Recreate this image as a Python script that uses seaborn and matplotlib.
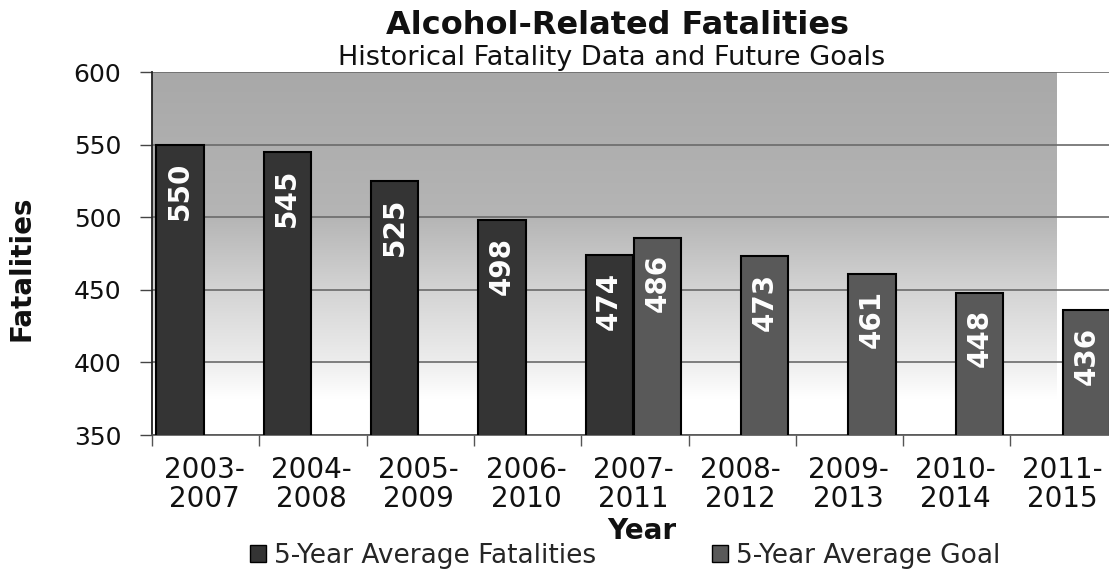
import numpy as np
import pandas as pd
import matplotlib
matplotlib.use("Agg")
import matplotlib.pyplot as plt
import seaborn as sns
from matplotlib.patches import Patch

# ---- data ----
periods = ["2003-\n2007", "2004-\n2008", "2005-\n2009", "2006-\n2010", "2007-\n2011",
           "2008-\n2012", "2009-\n2013", "2010-\n2014", "2011-\n2015"]
fatalities = [550, 545, 525, 498, 474, None, None, None, None]
goals = [None, None, None, None, 486, 473, 461, 448, 436]
series_names = ["5-Year Average Fatalities", "5-Year Average Goal"]
series_colors = ["#343434", "#595959"]
yticks = [350, 400, 450, 500, 550, 600]

rows = []
for p, f, g in zip(periods, fatalities, goals):
    if f is not None:
        rows.append({"period": p, "series": series_names[0], "value": f})
    if g is not None:
        rows.append({"period": p, "series": series_names[1], "value": g})
df = pd.DataFrame(rows)

sns.set_style("white")
plt.rcParams["font.family"] = ["DejaVu Sans"]

W, H = 1109, 573
fig = plt.figure(figsize=(W / 100, H / 100), dpi=100)
cell = 107.3
ax_left, ax_top, ax_bottom = 152, 72, 435
ax_w = cell * len(periods)
ax = fig.add_axes([ax_left / W, (H - ax_bottom) / H, ax_w / W, (ax_bottom - ax_top) / H])

# gradient background (plot area fill)
t = np.linspace(0, 1, 400)
shade = np.interp(t, [0.0, 0.1, 0.2, 0.4, 0.6, 1.0], [1.0, 1.0, 0.93, 0.83, 0.71, 0.66])
img = np.dstack([shade, shade, shade]).reshape(400, 1, 3)
grad_end = (1057 - ax_left) / ax_w
ax.imshow(img, extent=[0, grad_end, 0, 1], transform=ax.transAxes, origin="lower",
          aspect="auto", zorder=-10, interpolation="bilinear")

sns.barplot(data=df, x="period", y="value", hue="series", order=periods,
            hue_order=series_names, palette=series_colors, width=0.9, gap=0.02,
            edgecolor="black", linewidth=1.5, ax=ax, legend=False, zorder=3)

# value labels
for cont in ax.containers:
    for bar in cont:
        h = bar.get_height()
        if np.isnan(h):
            continue
        ax.annotate(f"{h:.0f}", (bar.get_x() + bar.get_width() / 2, h),
                    xytext=(0, -12), textcoords="offset points", rotation=90,
                    ha="center", va="top", color="white", fontsize=20,
                    fontweight="bold", zorder=5)

off = 0.486
ax.set_xlim(-off, len(periods) - off)
ax.set_ylim(350, 600)
ax.set_yticks(yticks)
ax.set_yticklabels([str(v) for v in yticks])
ax.set_xticks(range(len(periods)))
ax.set_xticklabels(periods, linespacing=1.05)
ax.set_xticks(np.arange(len(periods) + 1) - off, minor=True)

ax.yaxis.grid(True, color="#6a6a6a", linewidth=1.2, zorder=1)
ax.set_axisbelow(True)
ax.tick_params(axis="y", labelsize=18, length=9, width=1, pad=13, color="#444444",
               left=True, labelcolor="#111111")
ax.tick_params(axis="x", which="major", length=0, labelsize=20, pad=15, labelcolor="#111111")
ax.tick_params(axis="x", which="minor", length=8, width=1, color="#555555", bottom=True)
for s in ["top", "right"]:
    ax.spines[s].set_visible(False)
ax.spines["left"].set_color("#222222")
ax.spines["left"].set_linewidth(1.3)
ax.spines["bottom"].set_color("#555555")
ax.spines["bottom"].set_linewidth(1.2)

ax.set_ylabel("Fatalities", fontsize=20, fontweight="bold", va="center", color="#111111")
ax.yaxis.set_label_coords(22 / W, (H - 268) / H, transform=fig.transFigure)
ax.set_xlabel("Year", fontsize=20, fontweight="bold", va="center", color="#111111")
ax.xaxis.set_label_coords(642 / W, (H - 531) / H, transform=fig.transFigure)

fig.text(617 / W, (H - 25) / H, "Alcohol-Related Fatalities", ha="center", va="center",
         fontsize=23, fontweight="bold", color="#111111")
fig.text(612 / W, (H - 58) / H, "Historical Fatality Data and Future Goals", ha="center",
         va="center", fontsize=19.5, color="#111111")

handles = [Patch(facecolor=c, edgecolor="black", linewidth=1) for c in series_colors]
fig.legend(handles, series_names, loc="center", bbox_to_anchor=(625 / W, (H - 556) / H),
           ncol=2, frameon=False, fontsize=19, handlelength=0.6, handleheight=0.6,
           handletextpad=0.3, columnspacing=4.4, borderpad=0, borderaxespad=0)

fig.savefig("out.png", dpi=100)
